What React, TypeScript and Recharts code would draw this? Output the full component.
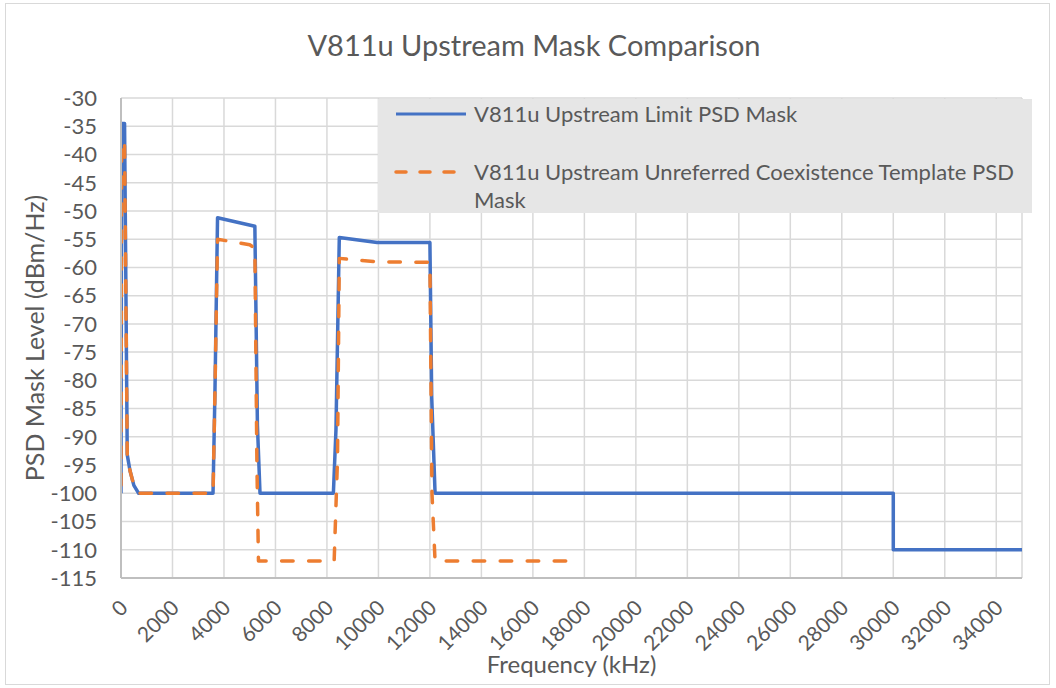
import React from 'react';
import { LineChart, Line, XAxis, YAxis, CartesianGrid, Legend, Label } from 'recharts';

const chartTitle = 'V811u Upstream Mask Comparison';
const xAxisTitle = 'Frequency (kHz)';
const yAxisTitle = 'PSD Mask Level (dBm/Hz)';
const limitName = 'V811u Upstream Limit PSD Mask';
const templateNameLine1 = 'V811u Upstream Unreferred Coexistence Template PSD';
const templateNameLine2 = 'Mask';

const xTicks = [0, 2000, 4000, 6000, 8000, 10000, 12000, 14000, 16000, 18000, 20000, 22000, 24000, 26000, 28000, 30000, 32000, 34000];
const yTicks = [-115, -110, -105, -100, -95, -90, -85, -80, -75, -70, -65, -60, -55, -50, -45, -40, -35, -30];

const limitFreq = [0, 25, 138, 243, 350, 500, 686, 3575, 3650, 3750, 5200, 5300, 5400, 8250, 8350, 8480, 9950, 12000, 12070, 12200, 30000, 30000, 35000];
const limitPsd = [-100, -34.5, -34.5, -93.2, -96, -98.6, -100, -100, -82, -51.2, -52.7, -88, -100, -100, -88.8, -54.7, -55.6, -55.6, -83, -100, -100, -110, -110];

const templateFreq = [0, 25, 138, 243, 350, 500, 686, 3575, 3650, 3750, 5000, 5200, 5280, 5340, 8280, 8410, 8480, 9950, 12000, 12080, 12200, 17450];
const templatePsd = [-100, -37.7, -37.7, -93.2, -96, -98.6, -100, -100, -82, -55, -56, -56.6, -95, -112, -112, -94, -58.4, -59, -59.1, -100, -112, -112];

const limitData = limitFreq.map((x, i) => ({ x, y: limitPsd[i] }));
const templateData = templateFreq.map((x, i) => ({ x, y: templatePsd[i] }));

const BLUE = '#4472C4';
const ORANGE = '#ED7D31';
const TEXT = '#595959';
const FONT = 'Lato, "Open Sans", sans-serif';

const XTick = (props: any) => {
  const { x, y, payload } = props;
  const ax = x + 2;
  const ay = y + 25;
  return (
    <text
      x={ax}
      y={ay}
      textAnchor="end"
      dominantBaseline="central"
      transform={`rotate(-45 ${ax} ${ay})`}
      fill={TEXT}
      fontSize={21}
      fontFamily={FONT}
    >
      {payload.value}
    </text>
  );
};

const LegendBox = () => (
  <div
    style={{
      width: 654,
      height: 114,
      background: '#e6e6e6',
      fontFamily: FONT,
      fontSize: 22,
      color: TEXT,
      position: 'relative',
    }}
  >
    <svg width={80} height={114} style={{ position: 'absolute', left: 12, top: 0 }}>
      <line x1={6} x2={76} y1={15} y2={15} stroke={BLUE} strokeWidth={3} />
      <line x1={6} x2={76} y1={73} y2={73} stroke={ORANGE} strokeWidth={3.5} strokeDasharray="10 14" strokeLinecap="round" />
    </svg>
    <div style={{ position: 'absolute', left: 96, top: 1, lineHeight: '28px', whiteSpace: 'nowrap' }}>{limitName}</div>
    <div style={{ position: 'absolute', left: 96, top: 59, lineHeight: '28px', whiteSpace: 'nowrap' }}>
      {templateNameLine1}
      <br />
      {templateNameLine2}
    </div>
  </div>
);

export default function App() {
  return (
    <div style={{ position: 'absolute', left: 0, top: 0, width: 1056, height: 688, background: '#fff', fontFamily: FONT }}>
      <div
        style={{
          position: 'absolute',
          left: 5,
          top: 3,
          width: 1043,
          height: 680,
          border: '1.5px solid #d9d9d9',
        }}
      />
      <div
        style={{
          position: 'absolute',
          left: 0,
          top: 26,
          width: 1068,
          textAlign: 'center',
          fontSize: 29,
          color: TEXT,
          lineHeight: '38px',
        }}
      >
        {chartTitle}
      </div>
      <div style={{ position: 'absolute', left: 0, top: 0 }}>
        <LineChart width={1056} height={688} margin={{ top: 98, right: 34, bottom: 0, left: 0 }}>
          <CartesianGrid stroke="#d9d9d9" strokeWidth={1.5} />
          <XAxis
            type="number"
            dataKey="x"
            domain={[0, 35000]}
            ticks={xTicks}
            interval={0}
            tick={<XTick />}
            tickLine={false}
            tickSize={0}
            tickMargin={0}
            axisLine={{ stroke: '#bfbfbf', strokeWidth: 2 }}
            height={110}
            allowDataOverflow
          >
            <Label value={xAxisTitle} position="insideBottom" offset={15} fill={TEXT} fontSize={24} fontFamily={FONT} />
          </XAxis>
          <YAxis
            type="number"
            domain={[-115, -30]}
            ticks={yTicks}
            interval={0}
            width={121}
            tickLine={false}
            tickSize={0}
            tickMargin={24}
            axisLine={{ stroke: '#bfbfbf', strokeWidth: 2 }}
            tick={{ fill: TEXT, fontSize: 22, fontFamily: FONT }}
            allowDataOverflow
          >
            <Label
              value={yAxisTitle}
              angle={-90}
              position="insideLeft"
              offset={35}
              fill={TEXT}
              fontSize={25}
              fontFamily={FONT}
              style={{ textAnchor: 'middle' }}
            />
          </YAxis>
          <Legend
            layout="horizontal"
            verticalAlign="middle"
            align="center"
            wrapperStyle={{ left: 378, top: 99, width: 654, height: 114 }}
            content={() => <LegendBox />}
          />
          <Line
            data={limitData}
            dataKey="y"
            type="linear"
            stroke={BLUE}
            strokeWidth={3.5}
            strokeLinejoin="round"
            dot={false}
            isAnimationActive={false}
          />
          <Line
            data={templateData}
            dataKey="y"
            type="linear"
            stroke={ORANGE}
            strokeWidth={3.5}
            strokeDasharray="11.5 15.5"
            strokeDashoffset={-8}
            strokeLinecap="round"
            strokeLinejoin="round"
            dot={false}
            isAnimationActive={false}
          />
        </LineChart>
      </div>
    </div>
  );
}
